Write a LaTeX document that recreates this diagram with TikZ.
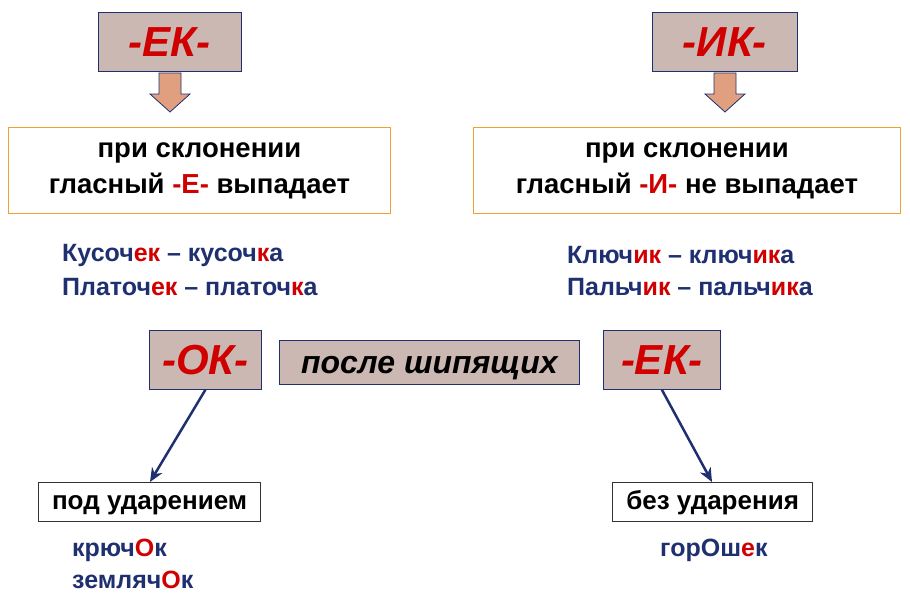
\documentclass[tikz,border=0pt]{standalone}
\usepackage{fontspec}
\setmainfont{Liberation Sans}
\usetikzlibrary{arrows.meta}
\definecolor{navy}{HTML}{1F3070}
\definecolor{suffred}{HTML}{D00000}
\definecolor{tagfill}{HTML}{CBB8B3}
\definecolor{ruleorange}{HTML}{F0A030}
\definecolor{downfill}{HTML}{E0A080}
\begin{document}
\begin{tikzpicture}[x=1pt,y=-1pt]
	\tikzstyle{tag} = [draw=navy, thick, fill=tagfill, minimum height=59pt, text height=30pt, text depth=0pt, font={\fontsize{42}{44}\selectfont\bfseries\itshape}, text=suffred, anchor=north west];
	\tikzstyle{rule} = [draw=ruleorange, thick, fill=white, minimum height=86pt, align=center, font={\fontsize{27.5}{36}\selectfont\bfseries}, anchor=north west];
	\tikzstyle{stress} = [draw=black!80, very thick, fill=white, minimum height=39pt, text height=19pt, text depth=5pt, font={\fontsize{26}{28}\selectfont\bfseries}, anchor=north west];
	\tikzstyle{word} = [anchor=west, text=navy, font={\fontsize{25}{27}\selectfont\bfseries}, inner sep=0pt];
	\tikzstyle{down} = [draw=navy, thick, fill=downfill];
	\tikzstyle{point} = [-{Stealth[length=14pt,width=12pt]}, navy, line width=2.5pt];

	\useasboundingbox (0,0) rectangle (910,610);

	% top suffixes
	\node[tag, minimum width=143pt] (ek) at (98,12) {-ЕК-};
	\node[tag, minimum width=145pt] (ik) at (652,12) {-ИК-};
	\foreach \cx in {170,725}
		\draw[down] (\cx-11,73) -- (\cx+11,73) -- (\cx+11,94) -- (\cx+20,94) -- (\cx,112) -- (\cx-20,94) -- (\cx-11,94) -- cycle;

	% rules
	\node[rule, minimum width=382pt] (ekrule) at (8,127) {при склонении\\гласный \textcolor{suffred}{-Е-} выпадает};
	\node[rule, minimum width=427pt] (ikrule) at (473,127) {при склонении\\гласный \textcolor{suffred}{-И-} не выпадает};

	% examples
	\node[word] (ex1) at (62,255) {Кусоч\textcolor{suffred}{ек} – кусоч\textcolor{suffred}{к}а};
	\node[word] (ex2) at (62,287) {Платоч\textcolor{suffred}{ек} – платоч\textcolor{suffred}{к}а};
	\node[word] (ex3) at (567,255) {Ключ\textcolor{suffred}{ик} – ключ\textcolor{suffred}{ик}а};
	\node[word] (ex4) at (567,287) {Пальч\textcolor{suffred}{ик} – пальч\textcolor{suffred}{ик}а};

	% after sibilants
	\node[tag, minimum width=112pt] (ok) at (149,330) {-ОК-};
	\node[tag, minimum width=300pt, minimum height=44pt, text height=23pt, text depth=1pt, text=black, font={\fontsize{32}{34}\selectfont\bfseries\itshape}] (sib) at (279,340) {после шипящих};
	\node[tag, minimum width=117pt] (ek2) at (603,330) {-ЕК-};

	\node[stress, minimum width=222pt] (stressed) at (38,482) {под ударением};
	\node[stress, minimum width=200pt] (unstressed) at (612,482) {без ударения};
	\draw[point] (ok.south) -- (stressed.north -| 150,0);
	\draw[point] (ek2.south) -- (unstressed.north -| 712,0);

	\node[word] (w1) at (72,550) {крюч\textcolor{suffred}{О}к};
	\node[word] (w2) at (72,580) {земляч\textcolor{suffred}{О}к};
	\node[word] (w3) at (660,550) {горОш\textcolor{suffred}{е}к};
\end{tikzpicture}
\end{document}
